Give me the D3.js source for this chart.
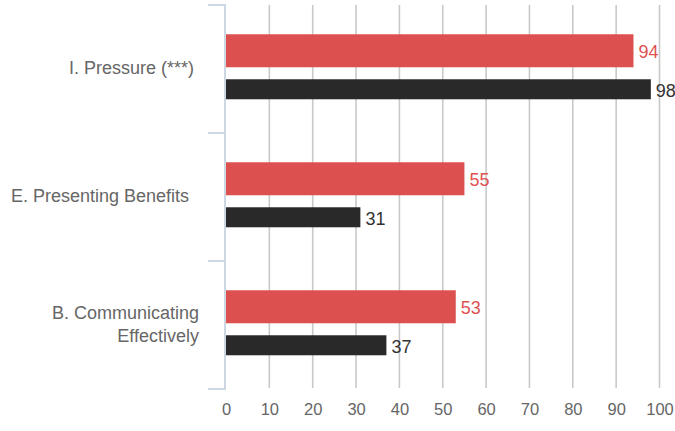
<!DOCTYPE html>
<html>
<head>
<meta charset="utf-8">
<script src="https://cdn.jsdelivr.net/npm/d3@7"></script>
<style>
  html, body { margin: 0; padding: 0; background: #fff; }
  svg { display: block; font-family: "Liberation Sans", Arial, sans-serif; }
  .cat-label { white-space: pre; }
</style>
</head>
<body>
<svg id="chart" width="675" height="431"></svg>
<script>
// Categories (top to bottom); each label line is drawn as a separate tspan
const categories = ["I. Pressure (***) ", "E. Presenting Benefits  ", "B. Communicating\nEffectively"];
const seriesNames = ["Group A", "Group B"];
const seriesA = [94, 55, 53];
const seriesB = [98, 31, 37];
const xTicks = [0, 10, 20, 30, 40, 50, 60, 70, 80, 90, 100];

const seriesColors = ["#dd5050", "#292929"];
const labelColors = ["#e05252", "#333333"];
const barThickness = [33, 20];

const svg = d3.select("#chart");
const plotLeft = 225, plotRight = 659.5, plotTop = 5, plotBottom = 389;

const x = d3.scaleLinear().domain([0, 100]).range([plotLeft + 1, plotRight]);
const y = d3.scaleBand().domain(categories).range([plotTop, plotBottom]).padding(0);
const ySeries = d3.scaleBand().domain(seriesNames)
  .range([0, y.bandwidth()]).paddingInner(0).paddingOuter(0.662).align(0.52);

// vertical gridlines
svg.append("g")
  .selectAll("line")
  .data(xTicks.filter(t => t > 0))
  .join("line")
  .attr("x1", d => x(d)).attr("x2", d => x(d))
  .attr("y1", plotTop).attr("y2", plotBottom - 1)
  .attr("stroke", "#c9c9c9")
  .attr("stroke-width", 1.6);

// bars
const rows = categories.map((c, i) => ({ cat: c, values: [seriesA[i], seriesB[i]] }));
const groups = svg.append("g").selectAll("g")
  .data(rows).join("g")
  .attr("transform", d => `translate(0,${y(d.cat)})`);

groups.selectAll("rect")
  .data(d => d.values.map((v, j) => ({ v, j })))
  .join("rect")
  .attr("x", x(0))
  .attr("y", d => ySeries(seriesNames[d.j]) + ySeries.bandwidth() / 2 - barThickness[d.j] / 2)
  .attr("width", d => x(d.v) - x(0))
  .attr("height", d => barThickness[d.j])
  .attr("fill", d => seriesColors[d.j]);

// value labels
groups.selectAll("text.val")
  .data(d => d.values.map((v, j) => ({ v, j })))
  .join("text")
  .attr("class", "val")
  .attr("x", d => x(d.v) + 5)
  .attr("y", d => ySeries(seriesNames[d.j]) + ySeries.bandwidth() / 2 + (d.j === 0 ? 7.5 : 8))
  .attr("font-size", 18)
  .attr("fill", d => labelColors[d.j])
  .text(d => d.v);

// category axis line with bracket ticks
const axisColor = "#cdd7e4";
svg.append("line")
  .attr("x1", plotLeft).attr("x2", plotLeft)
  .attr("y1", plotTop - 1).attr("y2", plotBottom + 1)
  .attr("stroke", axisColor).attr("stroke-width", 2);
const boundaries = categories.map(c => y(c)).concat([plotBottom]);
svg.append("g").selectAll("line")
  .data(boundaries).join("line")
  .attr("x1", 208).attr("x2", plotLeft)
  .attr("y1", d => d).attr("y2", d => d)
  .attr("stroke", axisColor).attr("stroke-width", 2);

// category labels, centred on each bar pair
const lineH = 23.4;
groups.each(function (d) {
  const lines = d.cat.split("\n");
  const top0 = ySeries(seriesNames[0]) + ySeries.bandwidth() / 2 - barThickness[0] / 2;
  const bot1 = ySeries(seriesNames[1]) + ySeries.bandwidth() / 2 + barThickness[1] / 2;
  const mid = (top0 + bot1) / 2 + 7.5;
  const t = d3.select(this).append("text")
    .attr("class", "cat-label")
    .attr("text-anchor", "end")
    .attr("font-size", 18)
    .attr("fill", "#666666");
  lines.forEach((ln, k) => {
    t.append("tspan")
      .attr("x", 199)
      .attr("y", mid + (k - (lines.length - 1) / 2) * lineH)
      .text(ln);
  });
});

// value axis tick labels
const xAxis = svg.append("g")
  .attr("transform", `translate(0,${plotBottom})`)
  .call(d3.axisBottom(x).tickValues(xTicks).tickSize(0).tickPadding(14.5));
xAxis.select(".domain").remove();
xAxis.selectAll("text")
  .attr("font-family", "Liberation Sans, Arial, sans-serif")
  .attr("font-size", 16.5)
  .attr("fill", "#666666");
</script>
</body>
</html>
